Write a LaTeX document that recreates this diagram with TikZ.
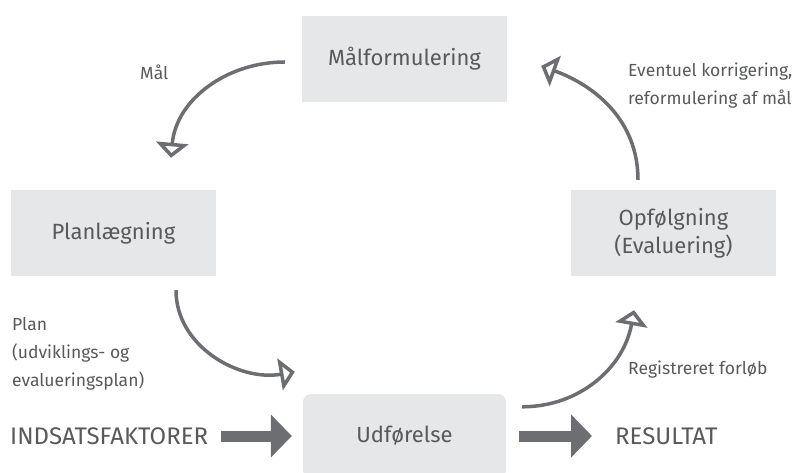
\documentclass[tikz,border=0pt]{standalone}
\usepackage{fontspec}
\setmainfont{Fira Sans}
\usetikzlibrary{arrows.meta}

\definecolor{boxgray}{HTML}{E6E7E8}
\definecolor{arrowgray}{HTML}{6D6E71}
\definecolor{textgray}{HTML}{58595B}

\tikzset{
  box/.style={fill=boxgray, minimum width=205pt, minimum height=86pt, inner sep=0pt,
    text=textgray, align=center, font=\fontsize{22}{28}\selectfont},
  lbl/.style={text=textgray, align=left, anchor=west, inner sep=0pt,
    font=\fontsize{17.5}{28}\selectfont},
  caps/.style={text=textgray, anchor=west, inner sep=0pt, font=\fontsize{24}{28}\selectfont},
  cyc/.style={draw=arrowgray, line width=3.5pt, -{Triangle[open, length=15pt, width=32pt]}},
  flow/.style={draw=arrowgray, line width=11pt, -{Triangle[length=21pt, width=42pt]}},
}

\begin{document}
\begin{tikzpicture}[x=1pt,y=1pt]
      \useasboundingbox (0,0) rectangle (803,472);
      \clip (0,0) rectangle (803,472);
      \node[box] (mal) at (404.5,413) {Målformulering};
      \node[box] (plan) at (113.5,239) {Planlægning};
      \node[box] (opf) at (673.5,239) {Opfølgning\\(Evaluering)};
      \node[box, rounded corners=8pt, minimum width=203pt, minimum height=84pt] (udf) at (404.5,36) {Udførelse};
      \node[lbl] (malLbl) at (140,400) {Mål};
      \node[lbl] (evLbl) at (628,386) {Eventuel korrigering,\\reformulering af mål};
      \node[lbl] (planLbl) at (12,118) {Plan\\(udviklings- og\\evalueringsplan)};
      \node[lbl] (regLbl) at (628,102) {Registreret forløb};
      \node[caps] (ind) at (10,36) {INDSATSFAKTORER};
      \node[caps] (res) at (615,36) {RESULTAT};
      \draw[cyc] ([xshift=-17pt,yshift=-3pt]mal.west) to[out=180,in=85] ([xshift=57.5pt,yshift=32pt]plan.north);
      \draw[cyc] ([xshift=-35.5pt,yshift=10pt]opf.north) to[out=90,in=-20] ([xshift=34pt,yshift=-7pt]mal.east);
      \draw[cyc] ([xshift=62.5pt,yshift=-14pt]plan.south) to[out=-90,in=190] ([xshift=-8pt,yshift=22pt]udf.north west);
      \draw[cyc] ([xshift=16pt,yshift=-13pt]udf.north east) to[out=0,in=-100] ([xshift=-39.5pt,yshift=-34pt]opf.south);
      \draw[flow] ([xshift=13pt]ind.east) -- ([xshift=-11pt]udf.west);
      \draw[flow] ([xshift=13pt]udf.east) -- ([xshift=-23pt]res.west);
    \end{tikzpicture}
\end{document}
